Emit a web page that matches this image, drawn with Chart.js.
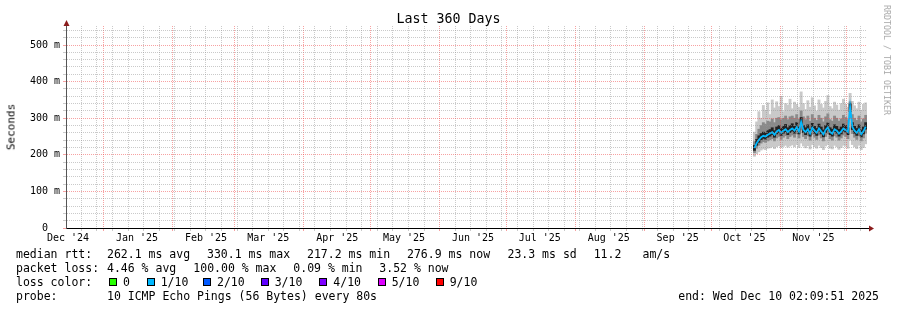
<!DOCTYPE html>
<html>
<head>
<meta charset="utf-8">
<script src="https://cdn.jsdelivr.net/npm/chart.js@4.4.1/dist/chart.umd.min.js"></script>
<style>
  html, body { margin: 0; padding: 0; background: #fff; }
  #wrap { position: relative; width: 897px; height: 310px; font-family: 'DejaVu Sans Mono', monospace; color: #000; overflow: hidden; }
  #wrap canvas { position: absolute; left: 0; top: 0; }
  .t { position: absolute; white-space: pre; font-size: 11.5px; line-height: 14px; }
  .box { position: absolute; width: 6px; height: 6px; border: 1px solid #000; }
  .rot { position: absolute; white-space: pre; transform: translate(-50%, -50%) rotate(-90deg); }
</style>
</head>
<body>
<div id="wrap">
  <canvas id="graph" width="897" height="310"></canvas>
  <div class="t" style="left:0;width:897px;top:12px;text-align:center;font-size:13.3px;">Last 360 Days</div>
  <div class="rot" style="left:11px;top:127px;font-size:11px;">Seconds</div>
  <div class="rot" style="left:887px;top:60px;font-size:8.3px;color:#a8a8a8;transform:translate(-50%,-50%) rotate(90deg);">RRDTOOL / TOBI OETIKER</div>
</div>
<script>
// x axis: days since graph start (Dec 15 2024 02:09:51), 360 days shown
var graphStart = Date.UTC(2024, 11, 15, 2, 9, 51);
var DAY = 86400000;
var spanDays = 360;

var monthLabels = ["Dec '24", "Jan '25", "Feb '25", "Mar '25", "Apr '25", "May '25",
                   "Jun '25", "Jul '25", "Aug '25", "Sep '25", "Oct '25", "Nov '25"];

var yMax = 552;
var yLabelValues = [0, 100, 200, 300, 400, 500];
var yLabelTexts = ["0  ", "100 m", "200 m", "300 m", "400 m", "500 m"];

// one sample per day, first at Oct 20 2025 12:00
var firstSample = Date.UTC(2025, 9, 20, 12, 0, 0);

// median rtt (ms)
var median = [218,232,241,248,252,250,255,258,262,255,264,268,260,266,270,262,268,272,266,276,
              264,290,268,262,270,258,274,266,260,272,264,256,268,275,262,258,270,266,258,264,
              272,268,262,330,276,266,260,270,256,264,277];
// smoke: lowest / highest ping
var pingMin = [196,203,208,213,216,214,218,219,222,217,222,225,220,223,226,221,224,227,222,228,
               220,232,224,219,225,216,228,222,218,226,220,214,224,228,218,216,226,222,215,220,
               226,224,218,240,228,222,217,226,214,220,230];
var pingMax = [262,290,318,300,335,322,342,310,350,328,345,332,360,318,340,336,352,326,344,338,
               330,372,340,324,348,330,356,334,320,350,338,328,346,362,332,326,344,336,322,340,
               352,338,330,368,346,334,326,344,322,338,342];
// smoke: middle band
var bandLo = [206,218,226,232,236,234,238,241,244,238,246,250,242,248,252,244,250,254,248,257,
              246,268,250,244,252,240,256,248,242,254,246,238,250,257,244,240,252,248,240,246,
              254,250,244,300,258,248,242,252,238,246,259];
var bandHi = [236,256,270,280,288,284,292,290,298,288,300,302,296,300,306,296,304,306,300,310,
              298,320,304,296,306,292,310,300,294,308,300,290,304,312,296,292,306,300,292,298,
              308,302,296,345,310,300,294,306,290,298,308];
// smoke: core around the median
var coreLo = [212,226,234,241,245,243,248,251,255,248,257,261,253,259,263,255,261,265,259,269,
              257,281,261,255,263,251,267,259,253,265,257,249,261,268,255,251,263,259,251,257,
              265,261,255,318,269,259,253,263,249,257,270];
var coreHi = [226,242,252,258,262,260,266,269,274,266,276,280,272,278,283,274,280,285,278,288,
              276,302,280,274,282,270,286,278,272,284,276,268,280,287,274,270,282,278,270,276,
              284,280,274,340,288,278,272,282,268,276,288];

var lossLabels = ["0", "1/10", "2/10", "3/10", "4/10", "5/10", "9/10"];
var lossColors = ["#26ff00", "#00b8ff", "#0059ff", "#5e00ff", "#7e00ff", "#dd00ff", "#ff0000"];

var MONO = "'DejaVu Sans Mono', monospace";
var GRID_MINOR = "rgba(150,150,150,0.5)";
var GRID_MAJOR = "rgba(240,70,70,0.5)";

function dayOf(ms) { return (ms - graphStart) / DAY; }

// x ticks: weekly (Sunday) minor lines, month-start major lines, mid-month labels
var xTickMap = {};
function xTick(v) {
  var k = v.toFixed(4);
  if (!xTickMap[k]) xTickMap[k] = { value: v, grid: null, label: "" };
  return xTickMap[k];
}
for (var w = Date.UTC(2024, 11, 22); dayOf(w) < spanDays; w += 7 * DAY) {
  xTick(dayOf(w)).grid = GRID_MINOR;
}
for (var m = 1; m <= 12; m++) {
  xTick(dayOf(Date.UTC(2024, 11 + m, 1))).grid = GRID_MAJOR;
}
monthLabels.forEach(function (lab, i) {
  xTick(dayOf(Date.UTC(2024, 11 + i, 16))).label = lab;
});
var xTickList = Object.keys(xTickMap).map(function (k) { return xTickMap[k]; })
  .filter(function (t) { return t.value > 0 && t.value < spanDays; })
  .sort(function (a, b) { return a.value - b.value; });

var yGridValues = [];
for (var g = 0; g < yMax; g += 20) yGridValues.push(g);

var sampleX = median.map(function (v, i) { return dayOf(firstSample + i * DAY); });
function band(lo, hi) { return lo.map(function (v, i) { return { x: sampleX[i], y: [v, hi[i]] }; }); }

function smoke(label, lo, hi, color, order) {
  return {
    type: "bar", label: label, data: band(lo, hi),
    backgroundColor: color, borderWidth: 0, grouped: false,
    barPercentage: 1, categoryPercentage: 1, order: order
  };
}

var axisArrows = {
  id: "axisArrows",
  afterDraw: function (chart) {
    var ctx = chart.ctx, a = chart.chartArea;
    ctx.save();
    ctx.lineWidth = 1;
    ctx.strokeStyle = "#555";
    ctx.beginPath(); ctx.moveTo(a.left + 0.5, a.top); ctx.lineTo(a.left + 0.5, a.top - 3); ctx.stroke();
    ctx.strokeStyle = "#000";
    ctx.beginPath(); ctx.moveTo(a.right, a.bottom + 0.5); ctx.lineTo(a.right + 3, a.bottom + 0.5); ctx.stroke();
    ctx.fillStyle = "#8b1c1c";
    ctx.beginPath();
    ctx.moveTo(a.left + 0.5, a.top - 6);
    ctx.lineTo(a.left - 2.5, a.top);
    ctx.lineTo(a.left + 3.5, a.top);
    ctx.closePath(); ctx.fill();
    ctx.beginPath();
    ctx.moveTo(a.right + 7, a.bottom + 0.5);
    ctx.lineTo(a.right + 2, a.bottom - 2.5);
    ctx.lineTo(a.right + 2, a.bottom + 3.5);
    ctx.closePath(); ctx.fill();
    ctx.restore();
  }
};

new Chart(document.getElementById("graph"), {
  type: "bar",
  data: {
    datasets: [
      {
        type: "line", label: "median rtt",
        data: median.map(function (v, i) { return { x: sampleX[i], y: v }; }),
        borderColor: lossColors[1], borderWidth: 1.8, pointRadius: 0, tension: 0, order: 0
      },
      smoke("core", coreLo, coreHi, "#222222", 1),
      smoke("band", bandLo, bandHi, "#8a8a8a", 2),
      smoke("range", pingMin, pingMax, "#c9c9c9", 3)
    ]
  },
  options: {
    responsive: false,
    animation: false,
    events: [],
    layout: { padding: { left: 0, top: 26, right: 30, bottom: 62 } },
    plugins: { legend: { display: false }, tooltip: { enabled: false }, title: { display: false } },
    scales: {
      x: {
        type: "linear", min: 0, max: spanDays, offset: false,
        afterBuildTicks: function (axis) {
          axis.ticks = xTickList.map(function (t) { return { value: t.value }; });
        },
        afterFit: function (s) { s.height = 20; },
        ticks: {
          autoSkip: false, maxRotation: 0, minRotation: 0, padding: 1, color: "#000",
          font: { family: MONO, size: 10 },
          callback: function (value, index) { return xTickList[index] ? xTickList[index].label : ""; }
        },
        grid: {
          offset: false, z: 1, lineWidth: 1, tickLength: 3,
          color: function (c) { var t = xTickList[c.index]; return t && t.grid ? t.grid : "rgba(0,0,0,0)"; },
          tickColor: function (c) { var t = xTickList[c.index]; return t && t.grid ? t.grid : "rgba(0,0,0,0)"; }
        },
        border: { display: true, color: "#000", width: 1, dash: [1, 1], z: 2 }
      },
      y: {
        type: "linear", min: 0, max: yMax,
        afterBuildTicks: function (axis) {
          axis.ticks = yGridValues.map(function (v) { return { value: v }; });
        },
        afterFit: function (s) { s.width = 66; },
        ticks: {
          autoSkip: false, padding: 3, color: "#000",
          font: { family: MONO, size: 10 },
          callback: function (value) {
            var i = yLabelValues.indexOf(value);
            return i >= 0 ? yLabelTexts[i] : "";
          }
        },
        grid: {
          z: 1, lineWidth: 1, tickLength: 3,
          color: function (c) { return c.tick && yLabelValues.indexOf(c.tick.value) >= 0 ? GRID_MAJOR : GRID_MINOR; }
        },
        border: { display: true, color: "#555", width: 1, dash: [1, 1], z: 2 }
      }
    }
  },
  plugins: [axisArrows]
});

// legend block under the graph
var wrap = document.getElementById("wrap");
function text(x, y, s) {
  var d = document.createElement("div");
  d.className = "t";
  d.style.left = x + "px";
  d.style.top = y + "px";
  d.textContent = s;
  wrap.appendChild(d);
  return d;
}
var rows = [
  [247, [[16, "median rtt:"], [107, "262.1 ms avg"], [207, "330.1 ms max"], [307, "217.2 ms min"],
         [407, "276.9 ms now"], [507.5, "23.3 ms sd"], [593.7, "11.2"], [642.5, "am/s"]]],
  [261, [[16, "packet loss:"], [107, "4.46 % avg"], [193.3, "100.00 % max"], [293.3, "0.09 % min"],
         [379.3, "3.52 % now"]]],
  [275, [[16, "loss color:"]]],
  [289, [[16, "probe:"], [107, "10 ICMP Echo Pings (56 Bytes) every 80s"]]]
];
rows.forEach(function (r) {
  r[1].forEach(function (seg) { text(seg[0], r[0], seg[1]); });
});
var boxX = [109, 146.7, 203, 260.7, 319.3, 377.7, 435.7];
lossLabels.forEach(function (lab, i) {
  var b = document.createElement("div");
  b.className = "box";
  b.style.left = boxX[i] + "px";
  b.style.top = "278px";
  b.style.background = lossColors[i];
  wrap.appendChild(b);
  text(boxX[i] + 14, 275, lab);
});
var endText = text(0, 289, "end: Wed Dec 10 02:09:51 2025");
endText.style.left = "auto";
endText.style.right = "18px";
</script>
</body>
</html>
